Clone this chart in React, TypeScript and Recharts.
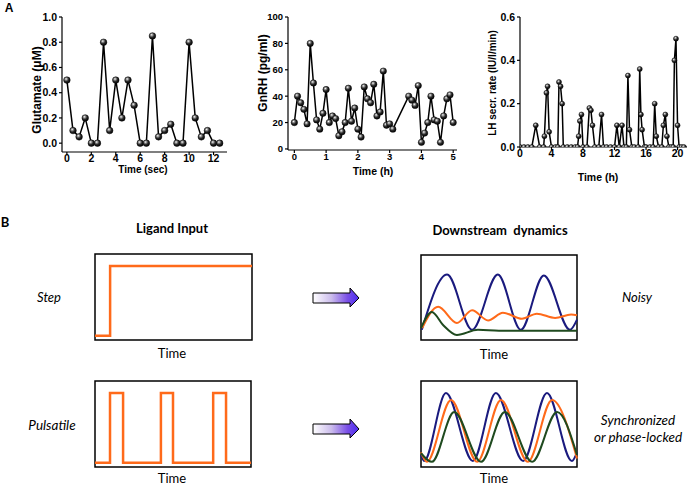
import React from 'react';
import { LineChart, Line, XAxis, YAxis, ReferenceArea } from 'recharts';

// ---------- Panel A data ----------
const gluTime = [0, 0.5, 1, 1.5, 2, 2.5, 3, 3.5, 4, 4.5, 5, 5.5, 6, 6.5, 7, 7.5, 8, 8.5, 9, 9.5, 10, 10.5, 11, 11.5, 12, 12.5];
const gluValue = [0.5, 0.1, 0.05, 0.2, 0, 0, 0.8, 0.1, 0.5, 0.2, 0.5, 0.3, 0, 0, 0.85, 0.05, 0.1, 0.15, 0, 0, 0.8, 0.2, 0.05, 0.1, 0, 0];
const gluXTicks = [0, 2, 4, 6, 8, 10, 12];
const gluYTicks = [0, 0.2, 0.4, 0.6, 0.8, 1.0];

const gnrhTime = [0, 0.1, 0.2, 0.3, 0.4, 0.5, 0.6, 0.7, 0.8, 0.9, 1.0, 1.1, 1.2, 1.3, 1.4, 1.5, 1.6, 1.7, 1.8, 1.9, 2.0, 2.1, 2.2, 2.3, 2.4, 2.5, 2.6, 2.7, 2.8, 2.9, 3.0, 3.1, 3.6, 3.7, 3.8, 3.9, 4.0, 4.1, 4.2, 4.3, 4.4, 4.5, 4.6, 4.7, 4.8, 4.9, 5.0];
const gnrhValue = [20, 40, 35, 30, 19, 80, 50, 22, 15, 27, 45, 20, 25, 23, 10, 13, 20, 46, 21, 31, 15, 9, 47, 38, 35, 49, 25, 28, 59, 18, 19, 15, 40, 37, 33, 48, 5, 12, 20, 40, 22, 21, 5, 25, 38, 41, 20];
const gnrhXTicks = [0, 1, 2, 3, 4, 5];
const gnrhYTicks = [0, 20, 40, 60, 80, 100];

const lhTime = [0, 0.5, 1, 1.5, 2.0, 2.5, 3.0, 3.1, 3.35, 3.5, 3.7, 4.0, 4.5, 4.8, 4.95, 5.15, 5.35, 5.5, 6, 6.5, 7, 7.3, 7.45, 7.6, 7.8, 8.0, 8.5, 8.8, 9.0, 9.2, 9.5, 10, 10.35, 10.6, 11, 11.5, 12, 12.3, 12.6, 12.95, 13.2, 13.5, 13.7, 13.9, 14.2, 14.5, 15, 15.2, 15.35, 15.5, 15.8, 16, 16.5, 16.9, 17.1, 17.3, 17.6, 18, 18.2, 18.45, 18.65, 18.9, 19.2, 19.45, 19.6, 19.8, 20.0, 20.2, 20.5, 20.8];
const lhValue = [0, 0, 0, 0, 0.1, 0, 0, 0.05, 0.25, 0.28, 0.07, 0, 0, 0, 0.3, 0.28, 0.2, 0, 0, 0, 0, 0, 0.05, 0.12, 0.15, 0, 0, 0.18, 0.17, 0.1, 0, 0, 0.15, 0, 0, 0, 0, 0.1, 0, 0.1, 0, 0, 0.33, 0.08, 0, 0, 0, 0.36, 0.15, 0.08, 0, 0, 0, 0, 0.2, 0.05, 0, 0, 0.1, 0.15, 0.05, 0, 0, 0, 0.4, 0.5, 0.1, 0, 0, 0];
const lhXTicks = [0, 4, 8, 12, 16, 20];
const lhYTicks = [0, 0.2, 0.4, 0.6];

// ---------- Panel B data ----------
const boxTicks = [1, 2, 3];

const stepInX = [0, 0.385, 0.385, 4.0];
const stepInY = [0.05, 0.05, 0.86, 0.86];

const pulseInX = [0, 0.385, 0.385, 0.72, 0.72, 1.69, 1.69, 2.0, 2.0, 3.03, 3.03, 3.36, 3.36, 4.0];
const pulseInY = [0.05, 0.05, 0.86, 0.86, 0.05, 0.05, 0.86, 0.86, 0.05, 0.05, 0.86, 0.86, 0.05, 0.05];

const stepBlueX = [0.02, 0.67, 1.31, 1.97, 2.56, 3.15, 3.82, 4.0];
const stepBlueY = [0.12, 0.77, 0.12, 0.77, 0.12, 0.76, 0.12, 0.24];
const stepOrangeX = [0.03, 0.44, 0.92, 1.31, 1.72, 2.1, 2.59, 2.97, 3.44, 3.85, 4.0];
const stepOrangeY = [0.14, 0.39, 0.2, 0.35, 0.23, 0.32, 0.25, 0.31, 0.26, 0.3, 0.29];
const stepGreenX = [0, 0.28, 0.56, 0.92, 1.46, 2.0, 4.0];
const stepGreenY = [0.14, 0.33, 0.18, 0.06, 0.12, 0.11, 0.11];

const pulseBlueX = [0, 0.08, 0.64, 1.33, 1.92, 2.62, 3.23, 3.87, 4.0];
const pulseBlueY = [0.14, 0.07, 0.86, 0.07, 0.86, 0.07, 0.86, 0.07, 0.17];
const pulseOrangeX = [0, 0.15, 0.77, 1.44, 2.05, 2.74, 3.36, 4.0];
const pulseOrangeY = [0.17, 0.06, 0.78, 0.06, 0.78, 0.06, 0.78, 0.1];
const pulseGreenX = [0, 0.28, 0.85, 1.54, 2.15, 2.85, 3.49, 4.0];
const pulseGreenY = [0.16, 0.06, 0.64, 0.06, 0.64, 0.06, 0.64, 0.14];

const ORANGE = '#ff6a1a';
const NAVY = '#1a1a7e';
const GREEN = '#1f4a1f';

const zip = (xs: number[], ys: number[]) => xs.map((x, i) => ({ x, y: ys[i] }));

const AFONT = '"Liberation Sans", Arial, sans-serif';
const BFONT = 'Lato, "Open Sans", sans-serif';

type APanelProps = {
  left: number; width: number; height: number; yAxisWidth: number; xAxisHeight: number;
  marginTop: number; marginRight: number; data: { x: number; y: number }[];
  xDomain: [number, number]; xTicks: number[]; yDomain: [number, number]; yTicks: number[];
  yFmt: (v: number) => string; tickFont: number; r: number;
};

function APanel(p: APanelProps) {
  const dot = (d: any) => (
    <circle key={`d${d.index}`} cx={d.cx} cy={d.cy} r={p.r} fill="url(#ballGrad)" stroke="#000" strokeWidth={0.5} />
  );
  const tickStyle = { fontSize: p.tickFont, fontWeight: 'bold' as const, fill: '#000', fontFamily: AFONT };
  return (
    <div style={{ position: 'absolute', left: p.left, top: 0 }}>
      <LineChart width={p.width} height={p.height} data={p.data}
        margin={{ top: p.marginTop, right: p.marginRight, bottom: 0, left: 0 }}>
        <XAxis type="number" dataKey="x" domain={p.xDomain} ticks={p.xTicks} interval={0}
          allowDataOverflow height={p.xAxisHeight} tickSize={3} tickMargin={0}
          axisLine={{ stroke: '#000', strokeWidth: 1.2 }} tickLine={{ stroke: '#000', strokeWidth: 1.2 }}
          tick={tickStyle} />
        <YAxis type="number" domain={p.yDomain} ticks={p.yTicks} interval={0} allowDataOverflow
          width={p.yAxisWidth} tickSize={3} tickMargin={2} tickFormatter={p.yFmt}
          axisLine={{ stroke: '#000', strokeWidth: 1.2 }} tickLine={{ stroke: '#000', strokeWidth: 1.2 }}
          tick={tickStyle} />
        <Line type="linear" dataKey="y" stroke="#000" strokeWidth={1.5} dot={dot} isAnimationActive={false} />
      </LineChart>
    </div>
  );
}

type Series = { xs: number[]; ys: number[]; color: string; width: number; curve: 'linear' | 'monotone' };

function BoxPanel({ left, top, w, h, series }: { left: number; top: number; w: number; h: number; series: Series[] }) {
  const m = 6;
  const tl = { stroke: '#000', strokeWidth: 1.5 };
  return (
    <div style={{ position: 'absolute', left: left - m, top: top - m }}>
      <LineChart width={w + 2 * m} height={h + 2 * m} margin={{ top: m, right: m, bottom: m, left: m }}>
        <XAxis xAxisId="b" type="number" dataKey="x" domain={[0, 4]} ticks={boxTicks} interval={0}
          height={0} tick={false} tickSize={4} axisLine={false} tickLine={tl} />
        <XAxis xAxisId="bm" type="number" dataKey="x" domain={[0, 4]} ticks={boxTicks} interval={0}
          height={0} mirror tick={false} tickSize={3} axisLine={false} tickLine={tl} />
        <XAxis xAxisId="t" orientation="top" type="number" dataKey="x" domain={[0, 4]} ticks={boxTicks} interval={0}
          height={0} tick={false} tickSize={3} axisLine={false} tickLine={tl} />
        <XAxis xAxisId="tm" orientation="top" type="number" dataKey="x" domain={[0, 4]} ticks={boxTicks} interval={0}
          height={0} mirror tick={false} tickSize={5} axisLine={false} tickLine={tl} />
        <YAxis yAxisId="y" type="number" domain={[0, 1]} hide width={0} />
        {series.map((s, i) => (
          <Line key={i} xAxisId="b" yAxisId="y" data={zip(s.xs, s.ys)} dataKey="y" type={s.curve}
            stroke={s.color} strokeWidth={s.width} dot={false} isAnimationActive={false} />
        ))}
        <ReferenceArea xAxisId="b" yAxisId="y" x1={0} x2={4} y1={0} y2={1} fill="none" fillOpacity={0}
          stroke="#000" strokeWidth={1.5} strokeOpacity={1} />
      </LineChart>
    </div>
  );
}

function Arrow({ y }: { y: number }) {
  return (
    <path d={`M313,${y - 5} H350 V${y - 10} L359,${y} L350,${y + 9} V${y + 5} H313 Z`}
      fill="url(#arrowGrad)" stroke="#000" strokeWidth={1} />
  );
}

export default function App() {
  const fmt1 = (v: number) => v.toFixed(1);
  const fmt0 = (v: number) => String(v);
  return (
    <div style={{ position: 'absolute', left: 0, top: 0, width: 687, height: 485, background: '#fff', overflow: 'hidden' }}>
      <svg width={0} height={0} style={{ position: 'absolute' }}>
        <defs>
          <radialGradient id="ballGrad" cx="38%" cy="33%" r="70%">
            <stop offset="0%" stopColor="#ffffff" />
            <stop offset="22%" stopColor="#9a9a9a" />
            <stop offset="55%" stopColor="#2a2a2a" />
            <stop offset="100%" stopColor="#000000" />
          </radialGradient>
          <linearGradient id="arrowGrad" x1="0" y1="0" x2="1" y2="0">
            <stop offset="0%" stopColor="#ffffff" />
            <stop offset="40%" stopColor="#cbbcec" />
            <stop offset="75%" stopColor="#7a4fe6" />
            <stop offset="100%" stopColor="#4a2bf0" />
          </linearGradient>
        </defs>
      </svg>

      <APanel left={0} width={240} height={180} yAxisWidth={62} xAxisHeight={28} marginTop={17} marginRight={13}
        data={zip(gluTime, gluValue)} xDomain={[-0.4, 13.1]} xTicks={gluXTicks} yDomain={[-0.07, 1]} yTicks={gluYTicks}
        yFmt={fmt1} tickFont={10.5} r={3.3} />
      <APanel left={230} width={230} height={180} yAxisWidth={58} xAxisHeight={30} marginTop={17} marginRight={3}
        data={zip(gnrhTime, gnrhValue)} xDomain={[-0.2, 5.12]} xTicks={gnrhXTicks} yDomain={[-0.8, 100]} yTicks={gnrhYTicks}
        yFmt={fmt0} tickFont={9.5} r={3.2} />
      <APanel left={450} width={237} height={180} yAxisWidth={70} xAxisHeight={33} marginTop={17} marginRight={0}
        data={zip(lhTime, lhValue)} xDomain={[0, 21.2]} xTicks={lhXTicks} yDomain={[0, 0.6]} yTicks={lhYTicks}
        yFmt={fmt1} tickFont={10.5} r={2.5} />

      <BoxPanel left={95} top={254} w={157} h={86}
        series={[{ xs: stepInX, ys: stepInY, color: ORANGE, width: 2.5, curve: 'linear' }]} />
      <BoxPanel left={95} top={381} w={156} h={86}
        series={[{ xs: pulseInX, ys: pulseInY, color: ORANGE, width: 2.5, curve: 'linear' }]} />
      <BoxPanel left={421} top={255} w={156} h={85}
        series={[
          { xs: stepBlueX, ys: stepBlueY, color: NAVY, width: 2, curve: 'monotone' },
          { xs: stepOrangeX, ys: stepOrangeY, color: ORANGE, width: 2, curve: 'monotone' },
          { xs: stepGreenX, ys: stepGreenY, color: GREEN, width: 2, curve: 'monotone' },
        ]} />
      <BoxPanel left={421} top={381} w={156} h={86}
        series={[
          { xs: pulseBlueX, ys: pulseBlueY, color: NAVY, width: 2, curve: 'monotone' },
          { xs: pulseOrangeX, ys: pulseOrangeY, color: ORANGE, width: 2, curve: 'monotone' },
          { xs: pulseGreenX, ys: pulseGreenY, color: GREEN, width: 2, curve: 'monotone' },
        ]} />

      <svg width={687} height={485} style={{ position: 'absolute', left: 0, top: 0, pointerEvents: 'none' }}>
        <g fontFamily={AFONT} fontWeight="bold" fill="#000" textAnchor="middle" dominantBaseline="central">
          <text x={9} y={8} fontSize={12}>A</text>
          <text x={143} y={169} fontSize={10}>Time (sec)</text>
          <text transform="translate(37,90) rotate(-90)" fontSize={12}>Glutamate (μM)</text>
          <text x={373} y={171} fontSize={10.5}>Time (h)</text>
          <text transform="translate(263,73) rotate(-90)" fontSize={12}>GnRH (pg/ml)</text>
          <text x={598} y={177} fontSize={10.5}>Time (h)</text>
          <text transform="translate(492,83) rotate(-90)" fontSize={10}>LH secr. rate (IU/l/min)</text>
        </g>
        <g fontFamily={BFONT} fill="#000" textAnchor="middle" dominantBaseline="central" fontSize={13}>
          <text x={5} y={222} fontWeight="bold">B</text>
          <text x={172} y={228} fontWeight="bold">Ligand Input</text>
          <text x={500} y={230} fontWeight="bold" style={{ whiteSpace: 'pre' }}>Downstream  dynamics</text>
          <text x={49} y={297} fontStyle="italic">Step</text>
          <text x={52} y={425} fontStyle="italic" fontSize={13.5}>Pulsatile</text>
          <text x={172} y={353}>Time</text>
          <text x={172} y={478}>Time</text>
          <text x={494} y={354}>Time</text>
          <text x={494} y={478}>Time</text>
          <text x={637} y={297} fontStyle="italic">Noisy</text>
          <text x={638} y={420} fontStyle="italic" fontSize={13.5}>Synchronized</text>
          <text x={638} y={437} fontStyle="italic" fontSize={13.5}>or phase-locked</text>
        </g>
        <Arrow y={298} />
        <Arrow y={429} />
      </svg>
    </div>
  );
}
